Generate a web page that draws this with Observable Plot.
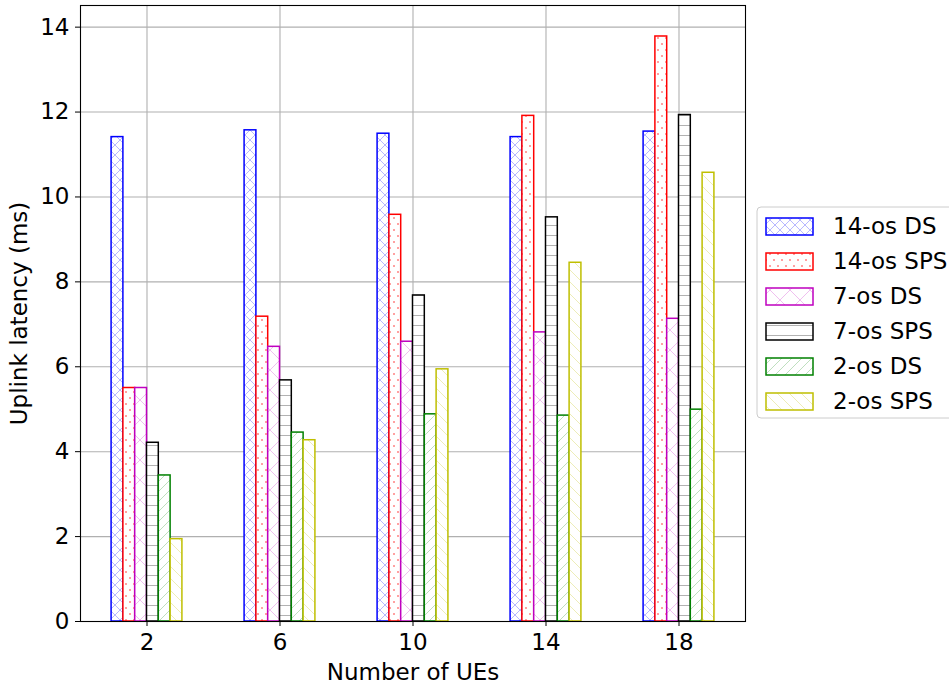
<!DOCTYPE html>
<html><head><meta charset="utf-8">
<script src="https://cdn.jsdelivr.net/npm/d3@7"></script>
<script src="https://cdn.jsdelivr.net/npm/@observablehq/plot@0.6"></script>
<style>body{margin:0;background:#fff;} #chart{width:949px;height:686px;}</style>
</head><body><div id="chart"></div>
<script>
const ues = [2, 6, 10, 14, 18];
const seriesNames = ["14-os DS", "14-os SPS", "7-os DS", "7-os SPS", "2-os DS", "2-os SPS"];
const ds14 = [11.41, 11.57, 11.49, 11.41, 11.54];
const sps14 = [5.50, 7.18, 9.58, 11.91, 13.78];
const ds7 = [5.50, 6.47, 6.59, 6.81, 7.13];
const sps7 = [4.21, 5.68, 7.68, 9.52, 11.93];
const ds2 = [3.44, 4.45, 4.88, 4.85, 4.99];
const sps2 = [1.94, 4.27, 5.94, 8.45, 10.57];
const seriesValues = [ds14, sps14, ds7, sps7, ds2, sps2];
const seriesColors = ["#0000ff", "#ff0000", "#bf00bf", "#000000", "#008000", "#bfbf00"];
const xTicks = [2, 6, 10, 14, 18];
const yTicks = [0, 2, 4, 6, 8, 10, 12, 14];
const barWidth = 0.355;

const rows = [];
seriesValues.forEach((vals, i) => vals.forEach((v, j) => rows.push({ue: ues[j], i, series: seriesNames[i], value: v})));

const font = "'DejaVu Sans', sans-serif";
const fs = 23;
const plot = Plot.plot({
  width: 949, height: 686,
  marginLeft: 80, marginRight: 204, marginTop: 5, marginBottom: 65,
  style: {fontFamily: font, fontSize: fs + "px", color: "black", background: "white", overflow: "visible"},
  x: {domain: [0, 20]},
  y: {domain: [0, 14.51]},
  color: {type: "identity"},
  marks: [
    Plot.gridX(xTicks, {stroke: "#b0b0b0", strokeOpacity: 1, strokeWidth: 1.1}),
    Plot.gridY(yTicks, {stroke: "#b0b0b0", strokeOpacity: 1, strokeWidth: 1.1}),
    Plot.rect(rows, {
      x1: d => d.ue + (d.i - 3) * barWidth,
      x2: d => d.ue + (d.i - 2) * barWidth,
      y1: 0, y2: "value",
      fill: d => `url(#hatch${d.i})`,
      stroke: d => seriesColors[d.i],
      strokeWidth: 1.5
    }),
    Plot.frame({stroke: "black", strokeWidth: 1.1}),
    Plot.axisX(xTicks, {tickSize: 5, tickPadding: 7, fontSize: fs, label: "Number of UEs", labelAnchor: "center", labelArrow: false, labelOffset: 58}),
    Plot.axisY(yTicks, {tickSize: 5, tickPadding: 6, fontSize: fs, label: "Uplink latency (ms)", labelAnchor: "center", labelArrow: false, labelOffset: 70, tickFormat: d3.format("d")})
  ]
});
document.getElementById("chart").appendChild(plot);

const svg = d3.select(plot);
const defs = svg.insert("defs", ":first-child");
function pat(id, w, h, draw) {
  const p = defs.append("pattern").attr("id", id).attr("patternUnits", "userSpaceOnUse").attr("width", w).attr("height", h);
  p.append("rect").attr("width", w).attr("height", h).attr("fill", "white");
  draw(p);
}
pat("hatch0", 10, 10, p => p.append("path").attr("d", "M0,0L10,10M10,0L0,10").attr("stroke", seriesColors[0]).attr("stroke-opacity", 0.28).attr("stroke-width", 1).attr("fill", "none"));
pat("hatch1", 8, 12, p => { p.append("rect").attr("x", 1.3).attr("y", 1.3).attr("width", 1.4).attr("height", 1.4).attr("fill", seriesColors[1]).attr("fill-opacity", 0.75);
                            p.append("rect").attr("x", 5.3).attr("y", 7.3).attr("width", 1.4).attr("height", 1.4).attr("fill", seriesColors[1]).attr("fill-opacity", 0.75); });
pat("hatch2", 20, 20, p => p.append("path").attr("d", "M0,0L20,20M20,0L0,20").attr("stroke", seriesColors[2]).attr("stroke-opacity", 0.25).attr("stroke-width", 1).attr("fill", "none"));
pat("hatch3", 10, 10, p => p.append("path").attr("d", "M0,5.5L10,5.5").attr("stroke", "#000").attr("stroke-opacity", 0.3).attr("stroke-width", 1).attr("fill", "none"));
pat("hatch4", 10, 10, p => p.append("path").attr("d", "M0,10L10,0M-1,1L1,-1M9,11L11,9").attr("stroke", seriesColors[4]).attr("stroke-opacity", 0.25).attr("stroke-width", 1).attr("fill", "none"));
pat("hatch5", 12, 12, p => p.append("path").attr("d", "M0,0L12,12M-1,11L1,13M11,-1L13,1").attr("stroke", seriesColors[5]).attr("stroke-opacity", 0.28).attr("stroke-width", 1).attr("fill", "none"));

// legend
const lg = svg.append("g").attr("font-family", font).attr("font-size", fs).attr("text-anchor", "start");
lg.append("rect").attr("x", 757).attr("y", 207).attr("width", 205).attr("height", 211).attr("rx", 4)
  .attr("fill", "white").attr("fill-opacity", 0.8).attr("stroke", "#cccccc").attr("stroke-width", 1);
seriesNames.forEach((name, i) => {
  const cy = 226 + 35 * i;
  lg.append("rect").attr("x", 766).attr("y", cy - 8).attr("width", 47).attr("height", 17)
    .attr("fill", `url(#hatch${i})`).attr("stroke", seriesColors[i]).attr("stroke-width", 1.5);
  lg.append("text").attr("x", 833).attr("y", cy).attr("dy", "0.35em").attr("fill", "black").attr("text-anchor", "start").text(name);
});
</script></body></html>
